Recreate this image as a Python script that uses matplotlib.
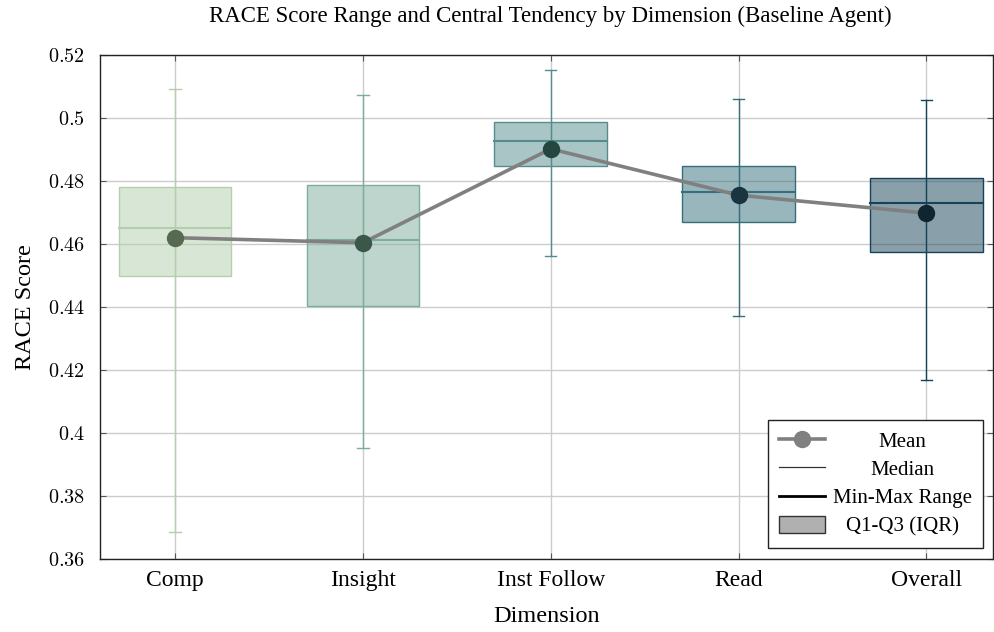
import matplotlib
matplotlib.use("Agg")
import matplotlib.pyplot as plt
from matplotlib.lines import Line2D
from matplotlib.patches import Patch

plt.rcParams["font.family"] = ["Liberation Serif", "DejaVu Serif"]
plt.rcParams["mathtext.fontset"] = "cm"

# Score statistics per dimension
dimensions = ["Comp", "Insight", "Inst Follow", "Read", "Overall"]
min_vals = [0.3686, 0.3951, 0.4561, 0.4372, 0.4169]
q1_vals = [0.4499, 0.4404, 0.4849, 0.4669, 0.4574]
median_vals = [0.4652, 0.4614, 0.4927, 0.4764, 0.4730]
q3_vals = [0.4781, 0.4786, 0.4988, 0.4849, 0.4809]
max_vals = [0.5091, 0.5073, 0.5151, 0.5060, 0.5056]
mean_vals = [0.4620, 0.4604, 0.4902, 0.4755, 0.4698]

y_ticks = [0.36, 0.38, 0.40, 0.42, 0.44, 0.46, 0.48, 0.50, 0.52]
y_tick_labels = ["0.36", "0.38", "0.4", "0.42", "0.44", "0.46", "0.48", "0.5", "0.52"]

base_colors = ["#b3cfad", "#7dad9b", "#558d8d", "#356f7b", "#154357"]
mean_colors = ["#566a52", "#3b574a", "#25453f", "#1a3440", "#112530"]

W, H = 994, 632
fig = plt.figure(figsize=(W / 100, H / 100), dpi=100)
ax = fig.add_axes([100 / W, (H - 559) / H, 893 / W, 504 / H])

x = list(range(len(dimensions)))
box_w = 0.6
cap_w = 0.03

for i in x:
    c = base_colors[i]
    # min-max whisker with caps
    ax.plot([i, i], [min_vals[i], max_vals[i]], color=c, lw=1.0, zorder=2)
    for v in (min_vals[i], max_vals[i]):
        ax.plot([i - cap_w, i + cap_w], [v, v], color=c, lw=1.0, zorder=2)
    # interquartile box
    ax.bar(i, q3_vals[i] - q1_vals[i], bottom=q1_vals[i], width=box_w,
           color=c, alpha=0.5, zorder=3, linewidth=0)
    ax.bar(i, q3_vals[i] - q1_vals[i], bottom=q1_vals[i], width=box_w,
           facecolor="none", edgecolor=c, linewidth=1.0, zorder=3)
    # median
    ax.plot([i - box_w / 2, i + box_w / 2], [median_vals[i]] * 2, color=c,
            lw=1.5, zorder=4)

# mean line and markers
ax.plot(x, mean_vals, color="#808080", lw=2.6, zorder=5)
for i in x:
    ax.plot(i, mean_vals[i], "o", color=mean_colors[i], markersize=11.5,
            zorder=6)

ax.set_xlim(-0.4, 4.355)
ax.set_ylim(0.36, 0.52)
ax.set_xticks(x)
ax.set_xticklabels(dimensions, fontsize=17)
ax.set_yticks(y_ticks)
ax.set_yticklabels([f"${t}$" for t in y_tick_labels], fontsize=14.5)
ax.tick_params(axis="both", direction="in", length=4, width=0.8,
               color="#555555", top=True, right=True)
ax.tick_params(axis="y", pad=11)
ax.tick_params(axis="x", pad=8)
ax.grid(True, color="#cccccc", lw=1.0, zorder=0)
ax.set_axisbelow(True)
for s in ax.spines.values():
    s.set_linewidth(1.0)
    s.set_color("#222222")

ax.set_xlabel("Dimension", fontsize=17.5, labelpad=11)
ax.set_ylabel("RACE Score", fontsize=17.5, labelpad=8)
fig.text(550 / W, 1 - 16 / H,
         "RACE Score Range and Central Tendency by Dimension (Baseline Agent)",
         ha="center", va="center", fontsize=16.5)

handles = [
    Line2D([], [], color="#808080", lw=2.6, marker="o", markersize=11.5),
    Line2D([], [], color="#333333", lw=0.9),
    Line2D([], [], color="black", lw=2.0),
    Patch(facecolor="#b0b0b0", edgecolor="#333333", linewidth=1.0),
]
labels = ["Mean", "Median", "Min-Max Range", "Q1-Q3 (IQR)"]
leg = ax.legend(handles, labels, loc="lower right",
                bbox_to_anchor=(983 / W, (H - 548) / H),
                bbox_transform=fig.transFigure, fontsize=15,
                fancybox=False, framealpha=1, edgecolor="#222222",
                handlelength=2.2, handleheight=0.9, handletextpad=0.35,
                labelspacing=0.35, borderpad=0.55, borderaxespad=0)
leg.get_frame().set_linewidth(1.0)

# center the legend labels within their column
renderer = fig.canvas.get_renderer()
texts = leg.get_texts()
widths = [t.get_window_extent(renderer).width for t in texts]
wmax = max(widths)
for t, w in zip(texts, widths):
    t.set_position(((wmax - w) / 2, 0))

fig.savefig("out.png", dpi=100)
